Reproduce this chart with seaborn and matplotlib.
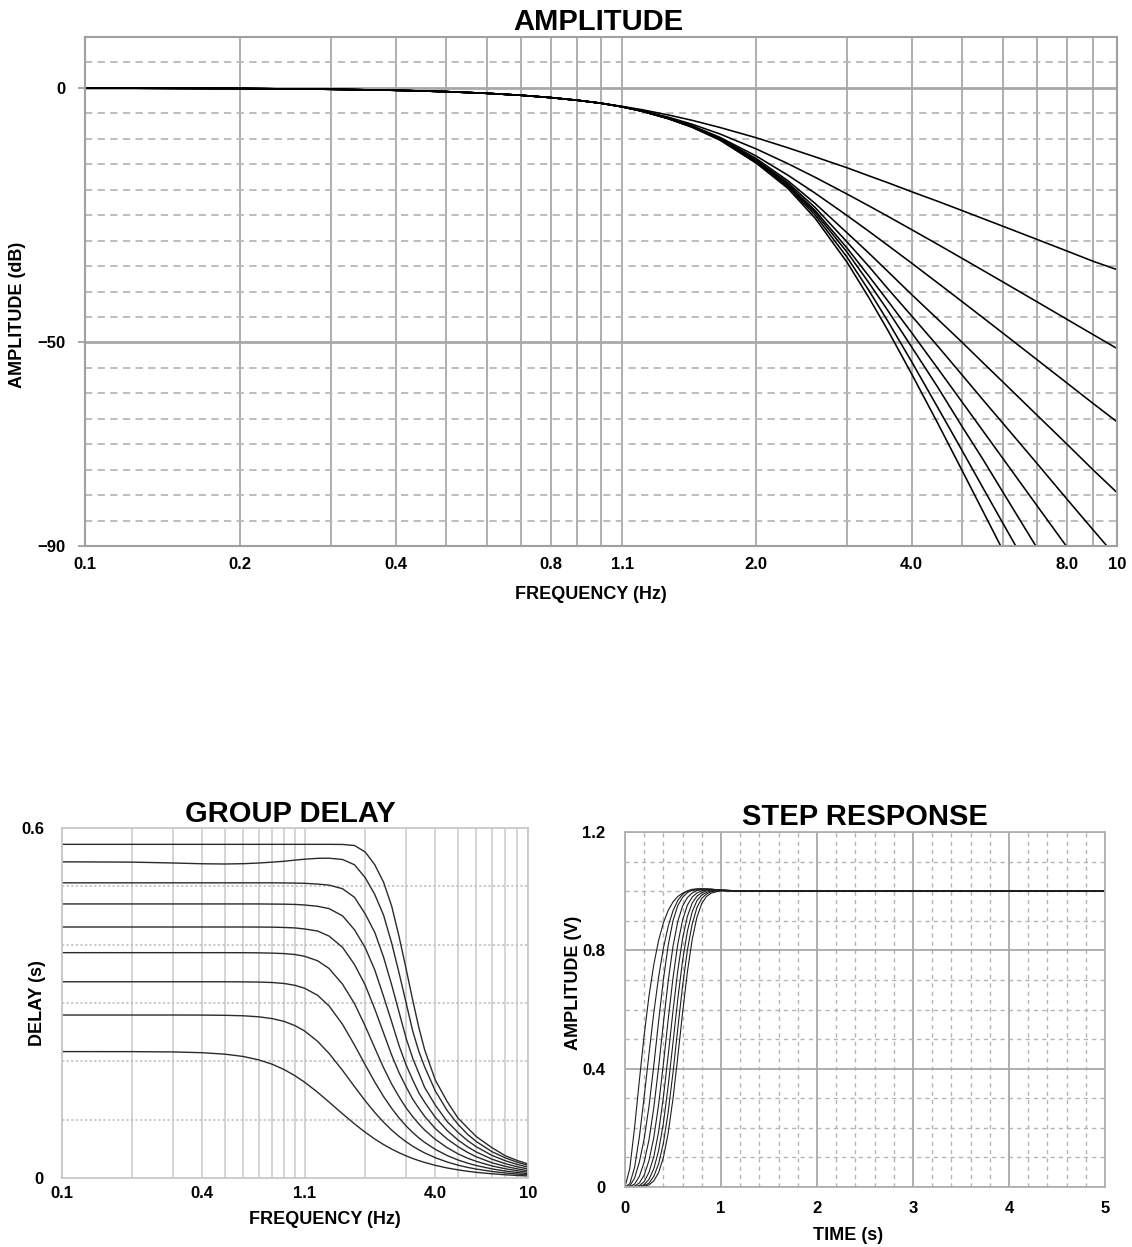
import numpy as np
import pandas as pd
import matplotlib
matplotlib.use("Agg")
import matplotlib.pyplot as plt
import seaborn as sns
from matplotlib.ticker import FixedLocator, FixedFormatter, NullFormatter

nan = np.nan

# ---------------- AMPLITUDE (dB) vs frequency (Hz), filter orders 2..10 ----------------
freq_amp = [0.1, 0.2, 0.3, 0.4, 0.5, 0.6, 0.7, 0.8, 0.9, 1.0,
            1.1, 1.2, 1.35, 1.5, 1.7, 2.0, 2.3, 2.6, 3.0, 3.3,
            3.6, 4.0, 4.5, 5.0, 5.5, 6.0, 7.0, 8.0, 9.0, 10.0]
amp_pass = [-0.03, -0.12, -0.27, -0.47, -0.73, -1.06, -1.45, -1.91, -2.43, -3.01]
amp_n2 = amp_pass + [-3.63, -4.28, -5.31, -6.36, -7.77, -9.8, -11.75, -13.55, -15.7, -17.25,
                     -18.64, -20.4, -22.3, -24.07, -25.68, -27.15, -29.77, -32.05, -34.08, -35.7]
amp_n3 = amp_pass + [-3.71, -4.47, -5.75, -7.12, -9.05, -12.0, -14.86, -17.56, -20.87, -23.14,
                     -25.25, -27.85, -30.78, -33.44, -35.86, -38.08, -42.03, -45.47, -48.5, -51.2]
amp_n4 = amp_pass + [-3.71, -4.51, -5.87, -7.42, -9.71, -13.4, -17.12, -20.68, -25.09, -28.13,
                     -30.96, -34.43, -38.37, -41.92, -45.15, -48.12, -53.4, -57.99, -62.04, -65.6]
amp_n5 = amp_pass + [-3.72, -4.53, -5.9, -7.5, -9.85, -13.9, -18.2, -22.7, -28.5, -32.4,
                     -36.1, -40.6, -45.5, -49.9, -54.0, -57.7, -64.3, -70.0, -75.1, -79.5]
amp_n6 = amp_pass + [-3.72, -4.54, -5.95, -7.55, -9.95, -14.2, -18.6, -23.5, -30.3, -35.0,
                     -39.5, -44.8, -50.8, -56.3, -61.3, -65.8, -73.8, -80.8, -86.9, -92.3]
amp_n7 = amp_pass + [-3.73, -4.55, -6.0, -7.6, -10.05, -14.4, -18.9, -24.1, -31.5, -36.9,
                     -41.9, -48.1, -55.2, -61.6, -67.4, -72.7, -82.1, -90.2, nan, nan]
amp_n8 = amp_pass + [-3.73, -4.56, -6.0, -7.65, -10.1, -14.6, -19.2, -24.5, -32.3, -38.2,
                     -43.8, -50.9, -58.9, -66.4, -73.0, -79.3, -90.4, nan, nan, nan]
amp_n9 = amp_pass + [-3.74, -4.57, -6.05, -7.7, -10.2, -14.7, -19.4, -25.0, -33.3, -39.7,
                     -45.9, -53.8, -62.9, -71.1, -78.6, -85.4, -97.4, nan, nan, nan]
amp_n10 = amp_pass + [-3.74, -4.58, -6.05, -7.7, -10.25, -14.8, -19.7, -25.6, -34.3, -41.1,
                      -47.7, -56.2, -66.0, -75.0, -83.2, -90.7, nan, nan, nan, nan]

# ---------------- GROUP DELAY (s) ----------------
freq_gd = [0.1, 0.2, 0.3, 0.4, 0.5, 0.6, 0.7, 0.8, 0.9, 1.0,
           1.1, 1.25, 1.4, 1.6, 1.8, 2.0,
           2.2, 2.4, 2.6, 2.8, 3.0, 3.2, 3.4, 3.6,
           4.0, 4.5, 5.0, 5.5, 6.0,
           7.0, 8.0, 9.0, 10.0]
gd_n2 = [0.2167, 0.2166, 0.2161, 0.2148, 0.2123, 0.2083, 0.2024, 0.1949, 0.1857, 0.1753,
         0.1642, 0.147, 0.1302, 0.110, 0.0928, 0.0785,
         0.0668, 0.0573, 0.0496, 0.0432, 0.0379, 0.0335, 0.0298, 0.0267,
         0.0217, 0.0172, 0.0140, 0.0116, 0.0097,
         0.0072, 0.0055, 0.0043, 0.0035]
gd_n3 = [0.2794, 0.2794, 0.2794, 0.2793, 0.2789, 0.2781, 0.2763, 0.2732, 0.2683, 0.2612,
         0.2520, 0.2343, 0.2136, 0.1844, 0.1567, 0.1325,
         0.1123, 0.0957, 0.0821, 0.0711, 0.062, 0.0545, 0.0483, 0.043,
         0.0348, 0.0274, 0.0221, 0.0182, 0.0153,
         0.0112, 0.0086, 0.0068, 0.0055]
gd_n4 = [0.3364, 0.3364, 0.3364, 0.3364, 0.3364, 0.3362, 0.3359, 0.3351, 0.3334, 0.3303,
         0.3253, 0.3132, 0.295, 0.2633, 0.228, 0.1942,
         0.1645, 0.1396, 0.1193, 0.1027, 0.0891, 0.078, 0.0688, 0.0611,
         0.0491, 0.0385, 0.031, 0.0255, 0.0214,
         0.0156, 0.0119, 0.0094, 0.0076]
gd_n5 = [0.3863, 0.3863, 0.3863, 0.3863, 0.3863, 0.3862, 0.3860, 0.3855, 0.3847, 0.3831,
         0.3801, 0.3724, 0.3592, 0.3322, 0.299, 0.2607,
         0.2230, 0.189, 0.161, 0.1388, 0.120, 0.1053, 0.0927, 0.0823,
         0.0663, 0.052, 0.0415, 0.034, 0.0285,
         0.0207, 0.0158, 0.0124, 0.0100]
gd_n6 = [0.4303, 0.4303, 0.4303, 0.4303, 0.4303, 0.4303, 0.4302, 0.4300, 0.4295, 0.4287,
         0.4269, 0.4234, 0.4147, 0.3954, 0.366, 0.331,
         0.2897, 0.2485, 0.2106, 0.180, 0.156, 0.1353, 0.1195, 0.1058,
         0.0847, 0.0668, 0.0539, 0.0440, 0.0363,
         0.0262, 0.0199, 0.0156, 0.0126]
gd_n7 = [0.4698, 0.4698, 0.4698, 0.4698, 0.4698, 0.4698, 0.4698, 0.4696, 0.4694, 0.4690,
         0.4680, 0.4658, 0.4618, 0.4494, 0.4256, 0.395,
         0.3566, 0.3112, 0.2675, 0.2262, 0.1936, 0.1682, 0.146, 0.130,
         0.104, 0.0813, 0.0653, 0.0535, 0.0446,
         0.0323, 0.0245, 0.0192, 0.0155]
gd_n8 = [0.506, 0.506, 0.506, 0.506, 0.506, 0.506, 0.506, 0.506, 0.5058, 0.5056,
         0.5052, 0.5039, 0.5021, 0.4959, 0.4812, 0.4529,
         0.421, 0.3785, 0.331, 0.2834, 0.2393, 0.2054, 0.1796, 0.1553,
         0.125, 0.0966, 0.0784, 0.0642, 0.0535,
         0.0388, 0.0295, 0.0232, 0.0186]
gd_n9 = [0.542, 0.5415, 0.540, 0.5387, 0.5383, 0.5388, 0.540, 0.5415, 0.543, 0.545,
         0.5465, 0.548, 0.5482, 0.546, 0.537, 0.515,
         0.486, 0.4505, 0.4025, 0.3505, 0.2998, 0.2521, 0.217, 0.1907,
         0.1493, 0.1156, 0.0923, 0.075, 0.0625,
         0.0452, 0.0344, 0.0270, 0.0217]
gd_n10 = [0.572, 0.572, 0.572, 0.572, 0.572, 0.572, 0.572, 0.572, 0.572, 0.572,
          0.572, 0.572, 0.572, 0.5718, 0.570, 0.559,
          0.537, 0.507, 0.466, 0.413, 0.358, 0.305, 0.258, 0.220,
          0.168, 0.131, 0.103, 0.086, 0.071,
          0.052, 0.038, 0.030, 0.024]

# ---------------- STEP RESPONSE (V) vs time (s) ----------------
time_s = [0.0, 0.05, 0.1, 0.15, 0.2, 0.25, 0.3, 0.35, 0.4, 0.45, 0.5, 0.55,
          0.6, 0.65, 0.7, 0.75, 0.8, 0.85, 0.9, 1.0, 1.2, 1.5, 5.0]
step_n2 = [0.0, 0.063, 0.2016, 0.3615, 0.514, 0.646, 0.752, 0.8335, 0.893, 0.935, 0.9635, 0.982,
           0.993, 0.9996, 1.0028, 1.0041, 1.0043, 1.004, 1.0035, 1.002, 1.0005, 1.0, 1.0]
step_n3 = [0.0, 0.0109, 0.0664, 0.1701, 0.3048, 0.45, 0.5887, 0.7097, 0.8074, 0.8815, 0.9339, 0.9686,
           0.9897, 1.0012, 1.0063, 1.0076, 1.0068, 1.0052, 1.0035, 1.0008, 0.9995, 1.0, 1.0]
step_n4 = [0.0, 0.004, 0.03, 0.085, 0.1633, 0.273, 0.4106, 0.56, 0.7013, 0.8175, 0.9003, 0.9515,
           0.9793, 0.995, 1.004, 1.0075, 1.0084, 1.0075, 1.006, 1.002, 0.9996, 1.0, 1.0]
step_n5 = [0.0, 0.001, 0.010, 0.036, 0.0848, 0.1596, 0.268, 0.4046, 0.554, 0.696, 0.8135, 0.8976,
           0.950, 0.9785, 0.994, 1.002, 1.0065, 1.0077, 1.007, 1.003, 0.9997, 1.0, 1.0]
step_n6 = [0.0, 0.0, 0.003, 0.014, 0.040, 0.0896, 0.167, 0.278, 0.4164, 0.566, 0.7065, 0.8215,
           0.9029, 0.953, 0.98, 0.994, 1.001, 1.005, 1.0064, 1.004, 1.0, 1.0, 1.0]
step_n7 = [0.0, 0.0, 0.001, 0.005, 0.018, 0.05, 0.1024, 0.1865, 0.304, 0.446, 0.5954, 0.732,
           0.8404, 0.9153, 0.96, 0.9833, 0.995, 1.001, 1.004, 1.0045, 1.0005, 1.0, 1.0]
step_n8 = [0.0, 0.0, 0.0003, 0.002, 0.008, 0.026, 0.0618, 0.1226, 0.2162, 0.3418, 0.488, 0.6357,
           0.7656, 0.8648, 0.9304, 0.9683, 0.9873, 0.996, 1.001, 1.0035, 1.0005, 1.0, 1.0]
step_n9 = [0.0, 0.0, 0.0, 0.001, 0.004, 0.013, 0.0362, 0.078, 0.1488, 0.2533, 0.387, 0.536,
           0.680, 0.801, 0.8893, 0.9452, 0.976, 0.9907, 0.998, 1.003, 1.001, 1.0, 1.0]
step_n10 = [0.0, 0.0, 0.0, 0.0005, 0.002, 0.007, 0.0208, 0.0485, 0.0997, 0.1825, 0.2987, 0.44,
            0.5894, 0.727, 0.8367, 0.9128, 0.9587, 0.9827, 0.9936, 1.002, 1.001, 1.0, 1.0]

orders = [2, 3, 4, 5, 6, 7, 8, 9, 10]
amp_series = [amp_n2, amp_n3, amp_n4, amp_n5, amp_n6, amp_n7, amp_n8, amp_n9, amp_n10]
gd_series = [gd_n2, gd_n3, gd_n4, gd_n5, gd_n6, gd_n7, gd_n8, gd_n9, gd_n10]
step_series = [step_n2, step_n3, step_n4, step_n5, step_n6, step_n7, step_n8, step_n9, step_n10]


def long_frame(xs, series, xname, yname):
    rows = []
    for order, ys in zip(orders, series):
        for x, y in zip(xs, ys):
            rows.append({xname: x, yname: y, "order": order})
    return pd.DataFrame(rows).dropna()


df_amp = long_frame(freq_amp, amp_series, "freq", "db")
df_gd = long_frame(freq_gd, gd_series, "freq", "delay")
df_step = long_frame(time_s, step_series, "time", "amp")

# ---------------- style ----------------
sns.set_style("white")
plt.rcParams["font.family"] = ["Liberation Sans", "DejaVu Sans"]
plt.rcParams["font.weight"] = "bold"
plt.rcParams["text.color"] = "black"
plt.rcParams["axes.labelcolor"] = "black"
plt.rcParams["xtick.labelcolor"] = "black"
plt.rcParams["ytick.labelcolor"] = "black"

W, H = 1132, 1247
fig = plt.figure(figsize=(W / 100, H / 100), dpi=100)


def px_axes(left, top, right, bottom):
    return fig.add_axes([left / W, 1 - bottom / H, (right - left) / W, (bottom - top) / H])


TICK_FS = 12
LABEL_FS = 13
TITLE_FS = 21

grid_freqs = [0.1, 0.2, 0.3, 0.4, 0.5, 0.6, 0.7, 0.8, 0.9, 1.0, 1.1,
              2, 3, 4, 5, 6, 7, 8, 9, 10]

# ================= AMPLITUDE =================
ax1 = px_axes(85, 37, 1117, 546)
ax1.set_xscale("log")
sns.lineplot(data=df_amp, x="freq", y="db", units="order", estimator=None,
             color="black", lw=1.15, ax=ax1, legend=False)
ax1.set_xlim(0.1, 10)
ax1.set_ylim(-90, 10)
amp_xlabels = {0.1: "0.1", 0.2: "0.2", 0.4: "0.4", 0.8: "0.8", 1.1: "1.1",
               2: "2.0", 4: "4.0", 8: "8.0", 10: "10"}
ax1.xaxis.set_major_locator(FixedLocator(grid_freqs))
ax1.xaxis.set_major_formatter(FixedFormatter([amp_xlabels.get(f, "") for f in grid_freqs]))
ax1.xaxis.set_minor_locator(FixedLocator([0.1, 0.3, 0.5, 2, 3, 5, 7]))
ax1.xaxis.set_minor_formatter(NullFormatter())
ax1.tick_params(axis="x", which="major", length=0, pad=8, labelsize=TICK_FS)
ax1.tick_params(axis="x", which="minor", length=6, width=1, color="#a0a0a0", bottom=True)
ax1.yaxis.set_major_locator(FixedLocator([0, -50, -90]))
ax1.yaxis.set_major_formatter(FixedFormatter(["0", "\u221250", "\u221290"]))
ax1.yaxis.set_minor_locator(FixedLocator([v for v in range(5, -90, -5) if v not in (0, -50)]))
ax1.tick_params(axis="y", which="major", length=5, width=1.3, color="#a0a0a0", left=True,
                pad=9, labelsize=TICK_FS)
ax1.tick_params(axis="y", which="minor", length=0)
ax1.grid(axis="x", which="major", color="#a8a8a8", lw=1.3, ls="-")
ax1.grid(axis="y", which="major", color="#a8a8a8", lw=2.0, ls="-")
ax1.grid(axis="y", which="minor", color="#b8b8b8", lw=1.3, ls=(0, (4, 3)))
ax1.set_axisbelow(True)
ax1.set_xlabel("")
ax1.set_ylabel("")
for s in ax1.spines.values():
    s.set_color("#a0a0a0")
    s.set_linewidth(1.5)

fig.text(598 / W, 1 - 22 / H, "AMPLITUDE", ha="center", va="center",
         fontsize=TITLE_FS, fontweight="bold")
fig.text(591 / W, 1 - 595 / H, "FREQUENCY (Hz)", ha="center", va="center",
         fontsize=LABEL_FS, fontweight="bold")
fig.text(18 / W, 1 - 315 / H, "AMPLITUDE (dB)", ha="center", va="center",
         rotation=90, fontsize=LABEL_FS, fontweight="bold")

# ================= GROUP DELAY =================
ax2 = px_axes(62, 828, 528, 1178)
ax2.set_xscale("log")
sns.lineplot(data=df_gd, x="freq", y="delay", units="order", estimator=None,
             color="#2a2a2a", lw=1.0, ax=ax2, legend=False)
ax2.set_xlim(0.1, 10)
ax2.set_ylim(0, 0.6)
gd_xlabels = {0.1: "0.1", 0.4: "0.4", 1.1: "1.1", 4: "4.0", 10: "10"}
ax2.xaxis.set_major_locator(FixedLocator(grid_freqs))
ax2.xaxis.set_major_formatter(FixedFormatter([gd_xlabels.get(f, "") for f in grid_freqs]))
ax2.xaxis.set_minor_locator(FixedLocator([]))
ax2.tick_params(axis="x", which="major", length=0, pad=6, labelsize=TICK_FS)
ax2.yaxis.set_major_locator(FixedLocator([0, 0.6]))
ax2.yaxis.set_major_formatter(FixedFormatter(["0", "0.6"]))
ax2.yaxis.set_minor_locator(FixedLocator([0.1, 0.2, 0.3, 0.4, 0.5]))
ax2.tick_params(axis="y", which="major", length=0, pad=13, labelsize=TICK_FS)
ax2.tick_params(axis="y", which="minor", length=0)
ax2.grid(axis="x", which="major", color="#cdcdcd", lw=1.2, ls="-")
ax2.grid(axis="y", which="minor", color="#bdbdbd", lw=1.1, ls=(0, (1.5, 1.5)))
ax2.set_axisbelow(True)
ax2.set_xlabel("")
ax2.set_ylabel("")
for s in ax2.spines.values():
    s.set_color("#c8c8c8")
    s.set_linewidth(1.3)

fig.text(290 / W, 1 - 814 / H, "GROUP DELAY", ha="center", va="center",
         fontsize=TITLE_FS, fontweight="bold")
fig.text(325 / W, 1 - 1220 / H, "FREQUENCY (Hz)", ha="center", va="center",
         fontsize=LABEL_FS, fontweight="bold")
fig.text(38 / W, 1 - 1003 / H, "DELAY (s)", ha="center", va="center",
         rotation=90, fontsize=LABEL_FS, fontweight="bold")

# ================= STEP RESPONSE =================
ax3 = px_axes(625, 832, 1105, 1187)
sns.lineplot(data=df_step, x="time", y="amp", units="order", estimator=None,
             color="#1e1e1e", lw=0.8, ax=ax3, legend=False)
ax3.set_xlim(0, 5)
ax3.set_ylim(0, 1.2)
ax3.xaxis.set_major_locator(FixedLocator([0, 1, 2, 3, 4, 5]))
ax3.xaxis.set_major_formatter(FixedFormatter(["0", "1", "2", "3", "4", "5"]))
ax3.xaxis.set_minor_locator(FixedLocator([i * 0.2 for i in range(1, 25) if i % 5 != 0]))
ax3.tick_params(axis="x", which="major", length=0, pad=10, labelsize=TICK_FS)
ax3.tick_params(axis="x", which="minor", length=0)
ax3.yaxis.set_major_locator(FixedLocator([0, 0.4, 0.8, 1.2]))
ax3.yaxis.set_major_formatter(FixedFormatter(["0", "0.4", "0.8", "1.2"]))
ax3.yaxis.set_minor_locator(FixedLocator([0.1, 0.2, 0.3, 0.5, 0.6, 0.7, 0.9, 1.0, 1.1]))
ax3.tick_params(axis="y", which="major", length=0, pad=14, labelsize=TICK_FS)
ax3.tick_params(axis="y", which="minor", length=0)
ax3.grid(axis="both", which="major", color="#a8a8a8", lw=1.3, ls="-")
ax3.grid(axis="both", which="minor", color="#b4b4b4", lw=1.0, ls=(0, (3, 3)))
ax3.set_axisbelow(True)
ax3.set_xlabel("")
ax3.set_ylabel("")
for s in ax3.spines.values():
    s.set_color("#b0b0b0")
    s.set_linewidth(1.3)

fig.text(865 / W, 1 - 817 / H, "STEP RESPONSE", ha="center", va="center",
         fontsize=TITLE_FS, fontweight="bold")
fig.text(848 / W, 1 - 1236 / H, "TIME (s)", ha="center", va="center",
         fontsize=LABEL_FS, fontweight="bold")
fig.text(573 / W, 1 - 983 / H, "AMPLITUDE (V)", ha="center", va="center",
         rotation=90, fontsize=LABEL_FS, fontweight="bold")

fig.savefig("out.png", dpi=100)
